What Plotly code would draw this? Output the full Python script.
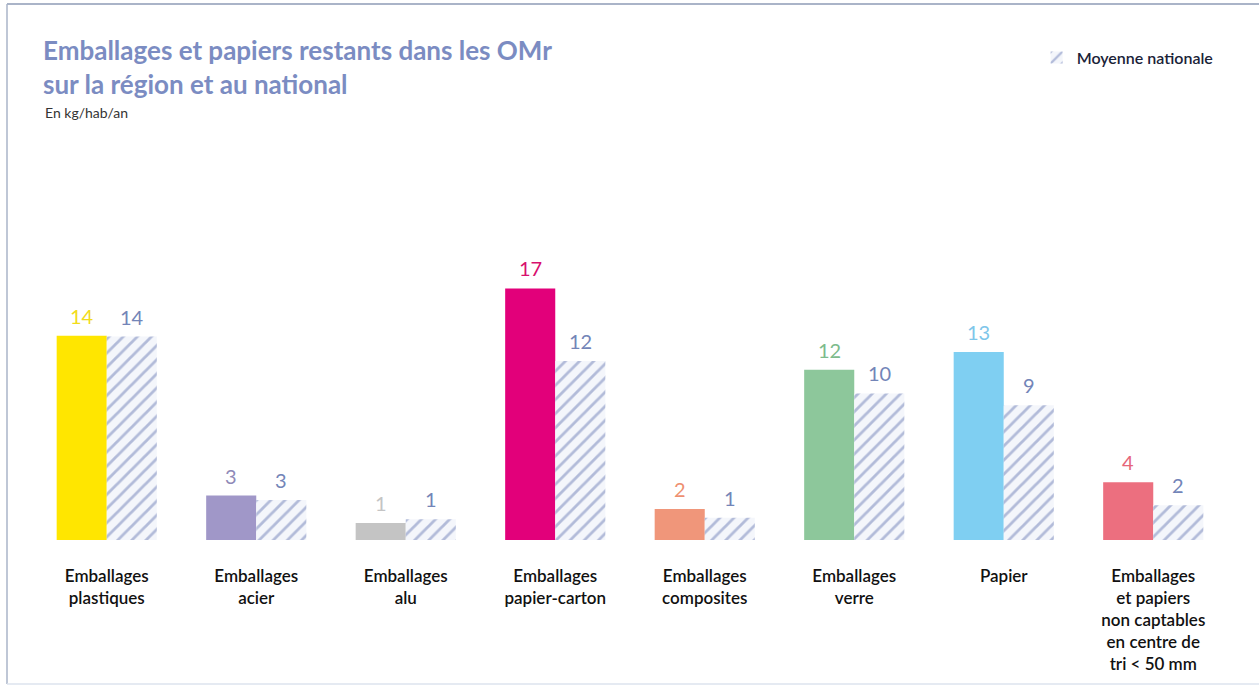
import plotly.graph_objects as go

# ---- data ----
categories = [
    "Emballages<br>plastiques",
    "Emballages<br>acier",
    "Emballages<br>alu",
    "Emballages<br>papier-carton",
    "Emballages<br>composites",
    "Emballages<br>verre",
    "Papier",
    "Emballages<br>et papiers<br>non captables<br>en centre de<br>tri < 50 mm",
]
region_values = [13.8, 3.0, 1.15, 17.0, 2.1, 11.5, 12.7, 3.9]
national_values = [13.75, 2.7, 1.4, 12.1, 1.5, 9.9, 9.1, 2.35]
region_labels = ["14", "3", "1", "17", "2", "12", "13", "4"]
national_labels = ["14", "3", "1", "12", "1", "10", "9", "2"]
title_lines = ["Emballages et papiers restants dans les OMr", "sur la région et au national"]

region_colors = ["#ffe600", "#a097c8", "#c4c4c4", "#e2007a",
                 "#f0967a", "#8dc79b", "#7fcff2", "#ec6f7f"]
region_label_colors = ["#f2dc1a", "#8f8ab8", "#c4c4c4", "#d8106e",
                       "#ee9070", "#7dbb8c", "#7ec6ea", "#e6667a"]
national_color = "#6f80b8"
national_label_color = "#7385b8"

FONT = "Lato"

fig = go.Figure()
fig.add_trace(go.Bar(
    x=categories, y=region_values, name="Région",
    marker=dict(color=region_colors, line=dict(width=0)),
    showlegend=False, hoverinfo="skip",
))
fig.add_trace(go.Bar(
    x=categories, y=national_values, name="Moyenne nationale",
    marker=dict(color="#f4f6fb", line=dict(width=0),
                pattern=dict(shape="/", fgcolor=national_color, bgcolor="#f4f6fb",
                             size=10, solidity=0.28)),
    showlegend=True, hoverinfo="skip",
))

annotations = []
for c, v, t, col in zip(categories, region_values, region_labels, region_label_colors):
    annotations.append(dict(x=c, y=v, xref="x", yref="y", text=t, showarrow=False,
                            xshift=-25, yshift=6, yanchor="bottom",
                            font=dict(family=FONT, size=20, color=col)))
for c, v, t in zip(categories, national_values, national_labels):
    annotations.append(dict(x=c, y=v, xref="x", yref="y", text=t, showarrow=False,
                            xshift=25, yshift=6, yanchor="bottom",
                            font=dict(family=FONT, size=20, color=national_label_color)))

# title and subtitle
annotations.append(dict(x=0.0085, y=1.7128, xref="paper", yref="paper",
                        text="<b>" + "<br>".join(title_lines) + "</b>",
                        showarrow=False, xanchor="left", yanchor="top", align="left",
                        borderpad=0,
                        font=dict(family=FONT, size=26, color="#7b8cc2")))
annotations.append(dict(x=0.0095, y=1.444, xref="paper", yref="paper",
                        text="En kg/hab/an", showarrow=False, xanchor="left", yanchor="middle",
                        font=dict(family=FONT, size=14, color="#333333")))

frame = "#aab4c8"
shapes = [
    dict(type="line", xref="paper", yref="paper", x0=-0.0209, x1=1.03, y0=1.811, y1=1.811,
         line=dict(color=frame, width=2)),
    dict(type="line", xref="paper", yref="paper", x0=-0.0209, x1=-0.0209, y0=1.811, y1=-0.4865,
         line=dict(color=frame, width=1.5)),
    dict(type="line", xref="paper", yref="paper", x0=-0.0209, x1=1.03, y0=-0.4865, y1=-0.4865,
         line=dict(color="#dde3ee", width=1.5)),
]

fig.update_layout(
    width=1259, height=687,
    margin=dict(l=32, r=31, t=244, b=147),
    paper_bgcolor="white", plot_bgcolor="white",
    barmode="group", bargap=0.33, bargroupgap=0,
    legend=dict(x=0.84, y=1.63, xanchor="left", yanchor="middle",
                font=dict(family=FONT, size=16, color="#1a2238", weight=600),
                bgcolor="rgba(0,0,0,0)", itemsizing="constant"),
    xaxis=dict(showline=False, showgrid=False, zeroline=False, ticks="",
               ticklabelstandoff=24,
               tickfont=dict(family=FONT, size=17, color="#111111", weight=600)),
    yaxis=dict(range=[0, 20], visible=False, showgrid=False, zeroline=False),
    annotations=annotations,
    shapes=shapes,
    showlegend=True,
)

fig.write_html("out.html")
